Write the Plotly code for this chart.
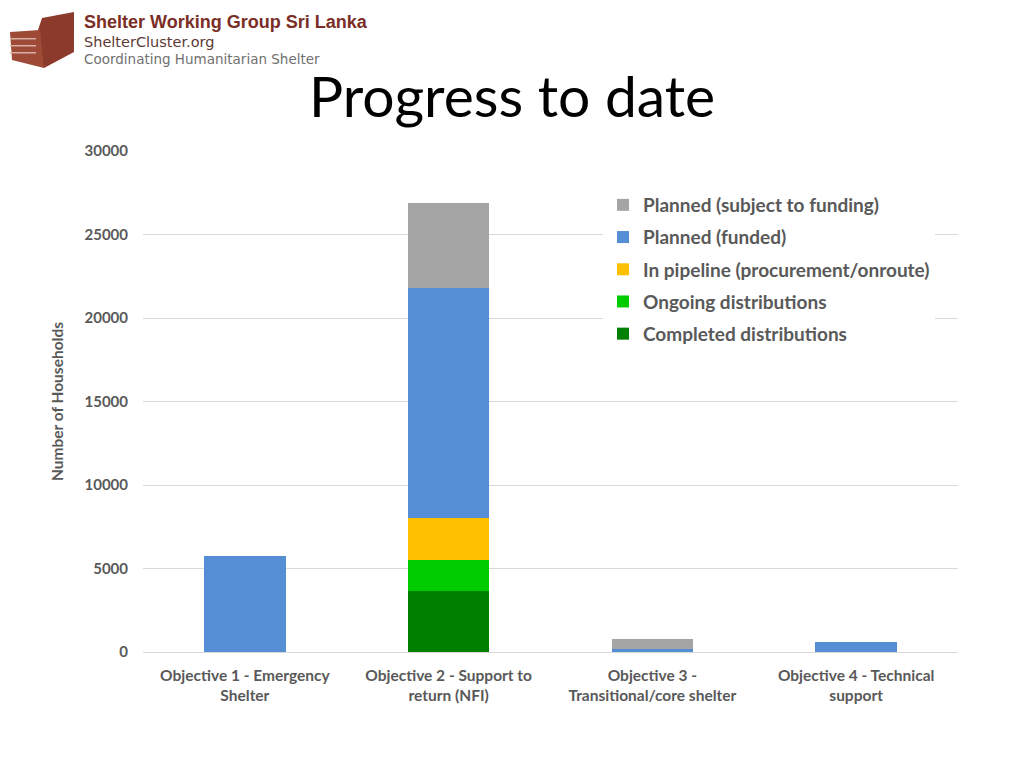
import plotly.graph_objects as go

categories = ["Objective 1 - Emergency<br>Shelter", "Objective 2 - Support to<br>return (NFI)",
              "Objective 3 -<br>Transitional/core shelter", "Objective 4 - Technical<br>support"]
completed = [0, 3650, 0, 0]
ongoing = [0, 1860, 0, 0]
pipeline = [0, 2510, 0, 0]
funded = [5750, 13770, 180, 580]
subject = [0, 5090, 620, 0]

series = [
    ("Completed distributions", completed, "#008000"),
    ("Ongoing distributions", ongoing, "#00CC00"),
    ("In pipeline (procurement/onroute)", pipeline, "#FFC000"),
    ("Planned (funded)", funded, "#558ED5"),
    ("Planned (subject to funding)", subject, "#A5A5A5"),
]

FONT = "Lato"
fig = go.Figure()
for i, (name, vals, col) in enumerate(series):
    fig.add_trace(go.Bar(x=categories, y=vals, name=name, legendgroup=name, legendrank=1000 - i,
                         marker=dict(color=col, line=dict(width=0)), width=0.4))

# page offset of 8px (body margin)
OFF = 8
L, R, T, B = 143, 958, 151, 652
def px(x, y):
    return (x - L) / (R - L), (B - y) / (B - T)

def path(pts):
    s = ""
    for i, (x, y) in enumerate(pts):
        a, b = px(x, y)
        s += ("M" if i == 0 else "L") + f"{a:.4f},{b:.4f} "
    return s + "Z"

shapes = [
    dict(type="path", xref="paper", yref="paper", path=path([(38, 30), (42, 18), (74, 12), (74, 52), (44, 68), (38, 62)]),
         fillcolor="#8B3A2B", line=dict(width=0)),
    dict(type="path", xref="paper", yref="paper", path=path([(10, 32), (40, 30), (44, 68), (12, 60)]),
         fillcolor="#9E4A36", line=dict(width=0)),
]
for yy in [38, 45, 52]:
    shapes.append(dict(type="path", xref="paper", yref="paper", path=path([(10, yy), (36, yy), (36, yy + 1.5), (10, yy + 1.5)]),
                       fillcolor="#D9B0A5", line=dict(width=0)))

annotations = [
    dict(text="<b>Shelter Working Group Sri Lanka</b>", xref="paper", yref="paper",
         x=px(82, 22)[0], y=px(82, 22)[1], xanchor="left", yanchor="middle", showarrow=False,
         font=dict(family="Liberation Sans", size=18, color="#7A2E25")),
    dict(text="ShelterCluster.org", xref="paper", yref="paper",
         x=px(82, 42)[0], y=px(82, 42)[1], xanchor="left", yanchor="middle", showarrow=False,
         font=dict(family="DejaVu Sans", size=14.5, color="#5C3A33")),
    dict(text="Coordinating Humanitarian Shelter", xref="paper", yref="paper",
         x=px(82, 59.5)[0], y=px(82, 59.5)[1], xanchor="left", yanchor="middle", showarrow=False,
         font=dict(family="DejaVu Sans", size=13.5, color="#707070")),
    dict(text="Progress to date", xref="paper", yref="paper",
         x=px(512, 95)[0], y=px(512, 95)[1], xanchor="center", yanchor="middle", showarrow=False,
         font=dict(family=FONT, size=57, color="#000000")),
]

fig.update_layout(
    width=1024 - OFF, height=768 - OFF,
    margin=dict(l=L - OFF, r=1024 - R, t=T - OFF, b=768 - B, autoexpand=False),
    paper_bgcolor="white", plot_bgcolor="white",
    barmode="stack",
    shapes=shapes, annotations=annotations,
    legend=dict(x=px(603, 0)[0], y=px(0, 186)[1], xanchor="left", yanchor="top",
                traceorder="grouped", bgcolor="white", tracegroupgap=4.5, itemsizing="constant",
                font=dict(family=FONT, size=19, color="#595959", weight="bold")),
    xaxis=dict(tickfont=dict(family=FONT, size=15.5, color="#595959", weight="bold"),
               showline=True, linecolor="#D9D9D9", ticks="", showgrid=False, ticklabelstandoff=9),
    yaxis=dict(range=[0, 30000], dtick=5000, tickformat="d", showgrid=True, gridcolor="#D9D9D9", zeroline=False,
               tickfont=dict(family=FONT, size=15, color="#595959", weight="bold"), ticks="",
               ticklabelstandoff=14,
               title=dict(text="Number of Households", font=dict(family=FONT, size=15.5, color="#595959", weight="bold"),
                          standoff=17)),
    showlegend=True,
)

fig.write_html("out.html")
